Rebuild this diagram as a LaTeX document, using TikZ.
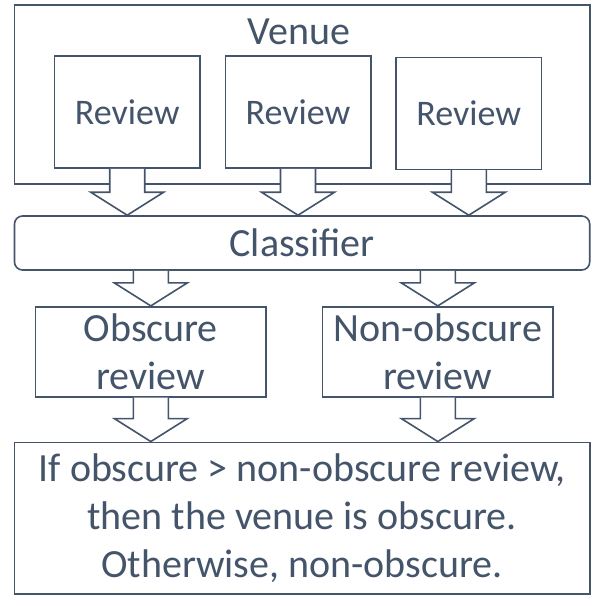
\documentclass[tikz,border=0pt]{standalone}
\usepackage{fontspec}
\setmainfont{Carlito}
\usetikzlibrary{calc}
\definecolor{slate}{HTML}{44546A}
\tikzset{
  box/.style={draw=slate, line width=1.6pt, fill=white, inner sep=0pt, align=center, text=slate,
    font=\fontsize{40}{48}\selectfont},
  revbox/.style={box, font=\fontsize{36}{44}\selectfont},
  lbl/.style={inner sep=0pt, text=slate, font=\fontsize{40}{48}\selectfont},
  blk/.style={draw=slate, line width=1.6pt, fill=white, line join=miter},
}
\newcommand{\blockarr}[2]{%
  \draw[blk] let \p1=(#1.south), \p2=(#2.north) in
    (\x1-17.5pt,\y1) -- (\x1-17.5pt,\y2+23pt) -- (\x1-36.5pt,\y2+23pt) -- (\x1,\y2)
    -- (\x1+36.5pt,\y2+23pt) -- (\x1+17.5pt,\y2+23pt) -- (\x1+17.5pt,\y1);}
\newcommand{\blockarrup}[2]{%
  \draw[blk] let \p1=(#2.north), \p2=(#1.south) in
    (\x1-17.5pt,\y2) -- (\x1-17.5pt,\y1+23pt) -- (\x1-36.5pt,\y1+23pt) -- (\x1,\y1)
    -- (\x1+36.5pt,\y1+23pt) -- (\x1+17.5pt,\y1+23pt) -- (\x1+17.5pt,\y2);}
\begin{document}
\begin{tikzpicture}[x=1pt,y=-1pt]
\useasboundingbox (0,0) rectangle (592,595);
\node[box, minimum width=575.2pt, minimum height=179pt] (venue) at (302.1,94.5) {};
\node[lbl] (vlabel) at (299,31.7) {Venue};
\node[revbox, minimum width=145.7pt, minimum height=112pt] (r1) at (127.2,112) {Review};
\node[revbox, minimum width=145.4pt, minimum height=112pt] (r2) at (298,112) {Review};
\node[revbox, minimum width=145.7pt, minimum height=112pt] (r3) at (468.8,113.3) {Review};
\node[box, rounded corners=8pt, minimum width=575.2pt, minimum height=54pt] (cls) at (302.1,243) {\raisebox{-2pt}{Classifier}};
\node[box, minimum width=230.3pt, minimum height=90pt] (ob) at (150.8,351.7) {Obscure\\review};
\node[box, minimum width=230.3pt, minimum height=90pt] (nob) at (437.8,351.7) {Non-obscure\\review};
\node[box, minimum width=575.4pt, minimum height=151.7pt] (bot) at (302,518.2)
  {If obscure > non-obscure review,\\then the venue is obscure.\\Otherwise, non-obscure.};
\blockarr{r1}{cls}
\blockarr{r2}{cls}
\blockarr{r3}{cls}
\blockarrup{cls}{ob}
\blockarrup{cls}{nob}
\blockarr{ob}{bot}
\blockarr{nob}{bot}
\end{tikzpicture}
\end{document}
